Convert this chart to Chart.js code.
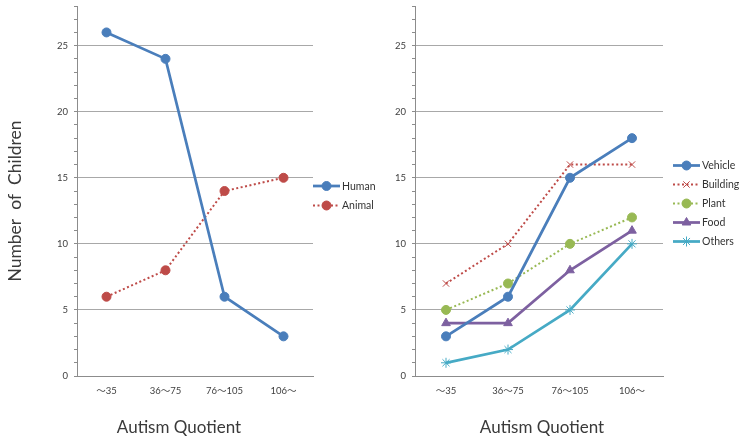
<!DOCTYPE html>
<html><head><meta charset="utf-8">
<script src="https://cdn.jsdelivr.net/npm/chart.js@4.4.0/dist/chart.umd.min.js"></script>
<style>
html,body{margin:0;padding:0;background:#fff;width:740px;height:439px;overflow:hidden}
.box{position:absolute;top:0;height:439px}
</style></head><body>
<div class="box" style="left:0;width:395px"><canvas id="c1"></canvas></div>
<div class="box" style="left:370px;width:370px"><canvas id="c2"></canvas></div>
<script>
const categories = ['～35', '36～75', '76～105', '106～'];
const human = [26, 24, 6, 3];
const animal = [6, 8, 14, 15];
const vehicle = [3, 6, 15, 18];
const building = [7, 10, 16, 16];
const plant = [5, 7, 10, 12];
const food = [4, 4, 8, 11];
const others = [1, 2, 5, 10];
const yLabelTicks = [0, 5, 10, 15, 20, 25];
const yMax = 28;
const yTitle = 'Number  of  Children';
const xTitle = 'Autism Quotient';

const FAMILY = "Lato, 'Noto Sans CJK JP', sans-serif";
const GRID = '#a8a8a8';
const AXIS = '#8c8c8c';

const legendPlugin = {
  id: 'sideLegend',
  afterDraw(chart, args, opts) {
    const ctx = chart.ctx;
    chart.data.datasets.forEach((ds, i) => {
      const y = opts.ys[i];
      const x = opts.x;
      ctx.save();
      ctx.strokeStyle = ds.borderColor;
      ctx.lineWidth = ds.borderWidth;
      ctx.setLineDash(ds.borderDash || []);
      ctx.beginPath();
      ctx.moveTo(x, y);
      ctx.lineTo(x + 27, y);
      ctx.stroke();
      ctx.setLineDash([]);
      ctx.fillStyle = ds.pointBackgroundColor;
      ctx.strokeStyle = ds.pointBorderColor;
      ctx.lineWidth = ds.pointBorderWidth;
      Chart.helpers.drawPoint(ctx, {pointStyle: ds.pointStyle, radius: ds.pointRadius, rotation: 0, borderWidth: ds.pointBorderWidth}, x + 13.5, y);
      ctx.fillStyle = '#333';
      ctx.font = '10.5px ' + FAMILY;
      ctx.textAlign = 'left';
      ctx.textBaseline = 'middle';
      ctx.fillText(ds.label, x + 29, y + 0.5);
      ctx.restore();
    });
  }
};

const titlePlugin = {
  id: 'axisTitles',
  afterDraw(chart, args, opts) {
    const ctx = chart.ctx;
    ctx.save();
    ctx.fillStyle = '#3a3a3a';
    ctx.font = '17px ' + FAMILY;
    ctx.textAlign = 'center';
    ctx.textBaseline = 'middle';
    ctx.fillText(xTitle, opts.xTitleX, opts.xTitleY);
    if (opts.yTitleX !== undefined) {
      ctx.font = '17.5px ' + FAMILY;
      ctx.translate(opts.yTitleX, opts.yTitleY);
      ctx.rotate(-Math.PI / 2);
      ctx.fillText(yTitle, 0, 0);
    }
    ctx.restore();
  }
};

function mkSet(label, data, color, style, radius, dashed, pbw) {
  return {
    label, data,
    borderColor: color,
    backgroundColor: color,
    borderWidth: dashed ? 2 : 2.75,
    borderDash: dashed ? [2, 2.5] : [],
    pointStyle: style,
    pointRadius: radius,
    pointBackgroundColor: color,
    pointBorderColor: color,
    pointBorderWidth: pbw,
    tension: 0,
    fill: false
  };
}

function scales(yWidth) {
  return {
    x: {
      type: 'category',
      offset: true,
      grid: {display: false, drawTicks: false},
      border: {display: true, color: AXIS, width: 1},
      ticks: {font: {size: 9.5, family: FAMILY}, color: '#404040', padding: 9, maxRotation: 0},
      afterFit: a => { a.height = 63; }
    },
    y: {
      min: 0, max: yMax,
      border: {display: true, color: AXIS, width: 1},
      grid: {
        color: c => (c.tick && c.tick.value > 0 && yLabelTicks.includes(c.tick.value)) ? GRID : 'rgba(0,0,0,0)',
        tickColor: AXIS, tickLength: 3, drawTicks: true, lineWidth: 1
      },
      ticks: {
        stepSize: 1, autoSkip: false,
        font: {size: 9.5, family: FAMILY}, color: '#404040', padding: 6,
        callback: v => yLabelTicks.includes(v) ? String(v) : ''
      },
      afterFit: a => { a.width = yWidth; a.paddingTop = 0; a.paddingBottom = 0; }
    }
  };
}

new Chart(document.getElementById('c1'), {
  type: 'line',
  data: {
    labels: categories,
    datasets: [
      mkSet('Human', human, '#4A7EBB', 'circle', 4.5, false, 1),
      mkSet('Animal', animal, '#BE4B48', 'circle', 4.5, true, 1)
    ]
  },
  options: {
    responsive: true, maintainAspectRatio: false, animation: false,
    layout: {padding: {top: 6, right: 82, left: 0, bottom: 0}},
    scales: scales(77),
    plugins: {
      legend: {display: false}, tooltip: {enabled: false},
      sideLegend: {x: 313, ys: [186, 205.5]},
      axisTitles: {xTitleX: 179, xTitleY: 428, yTitleX: 15, yTitleY: 201}
    }
  },
  plugins: [legendPlugin, titlePlugin]
});

new Chart(document.getElementById('c2'), {
  type: 'line',
  data: {
    labels: categories,
    datasets: [
      mkSet('Vehicle', vehicle, '#4A7EBB', 'circle', 4.5, false, 1),
      mkSet('Building', building, '#BE4B48', 'crossRot', 4.5, true, 1),
      mkSet('Plant', plant, '#98B954', 'circle', 4.5, true, 1),
      mkSet('Food', food, '#7D60A0', 'triangle', 5, false, 1),
      mkSet('Others', others, '#46AAC5', 'star', 5, false, 1)
    ]
  },
  options: {
    responsive: true, maintainAspectRatio: false, animation: false,
    layout: {padding: {top: 6, right: 77, left: 0, bottom: 0}},
    scales: scales(45),
    plugins: {
      legend: {display: false}, tooltip: {enabled: false},
      sideLegend: {x: 303, ys: [165.5, 184.5, 203.5, 222.5, 241.5]},
      axisTitles: {xTitleX: 172, xTitleY: 428}
    }
  },
  plugins: [legendPlugin, titlePlugin]
});
</script>
</body></html>
